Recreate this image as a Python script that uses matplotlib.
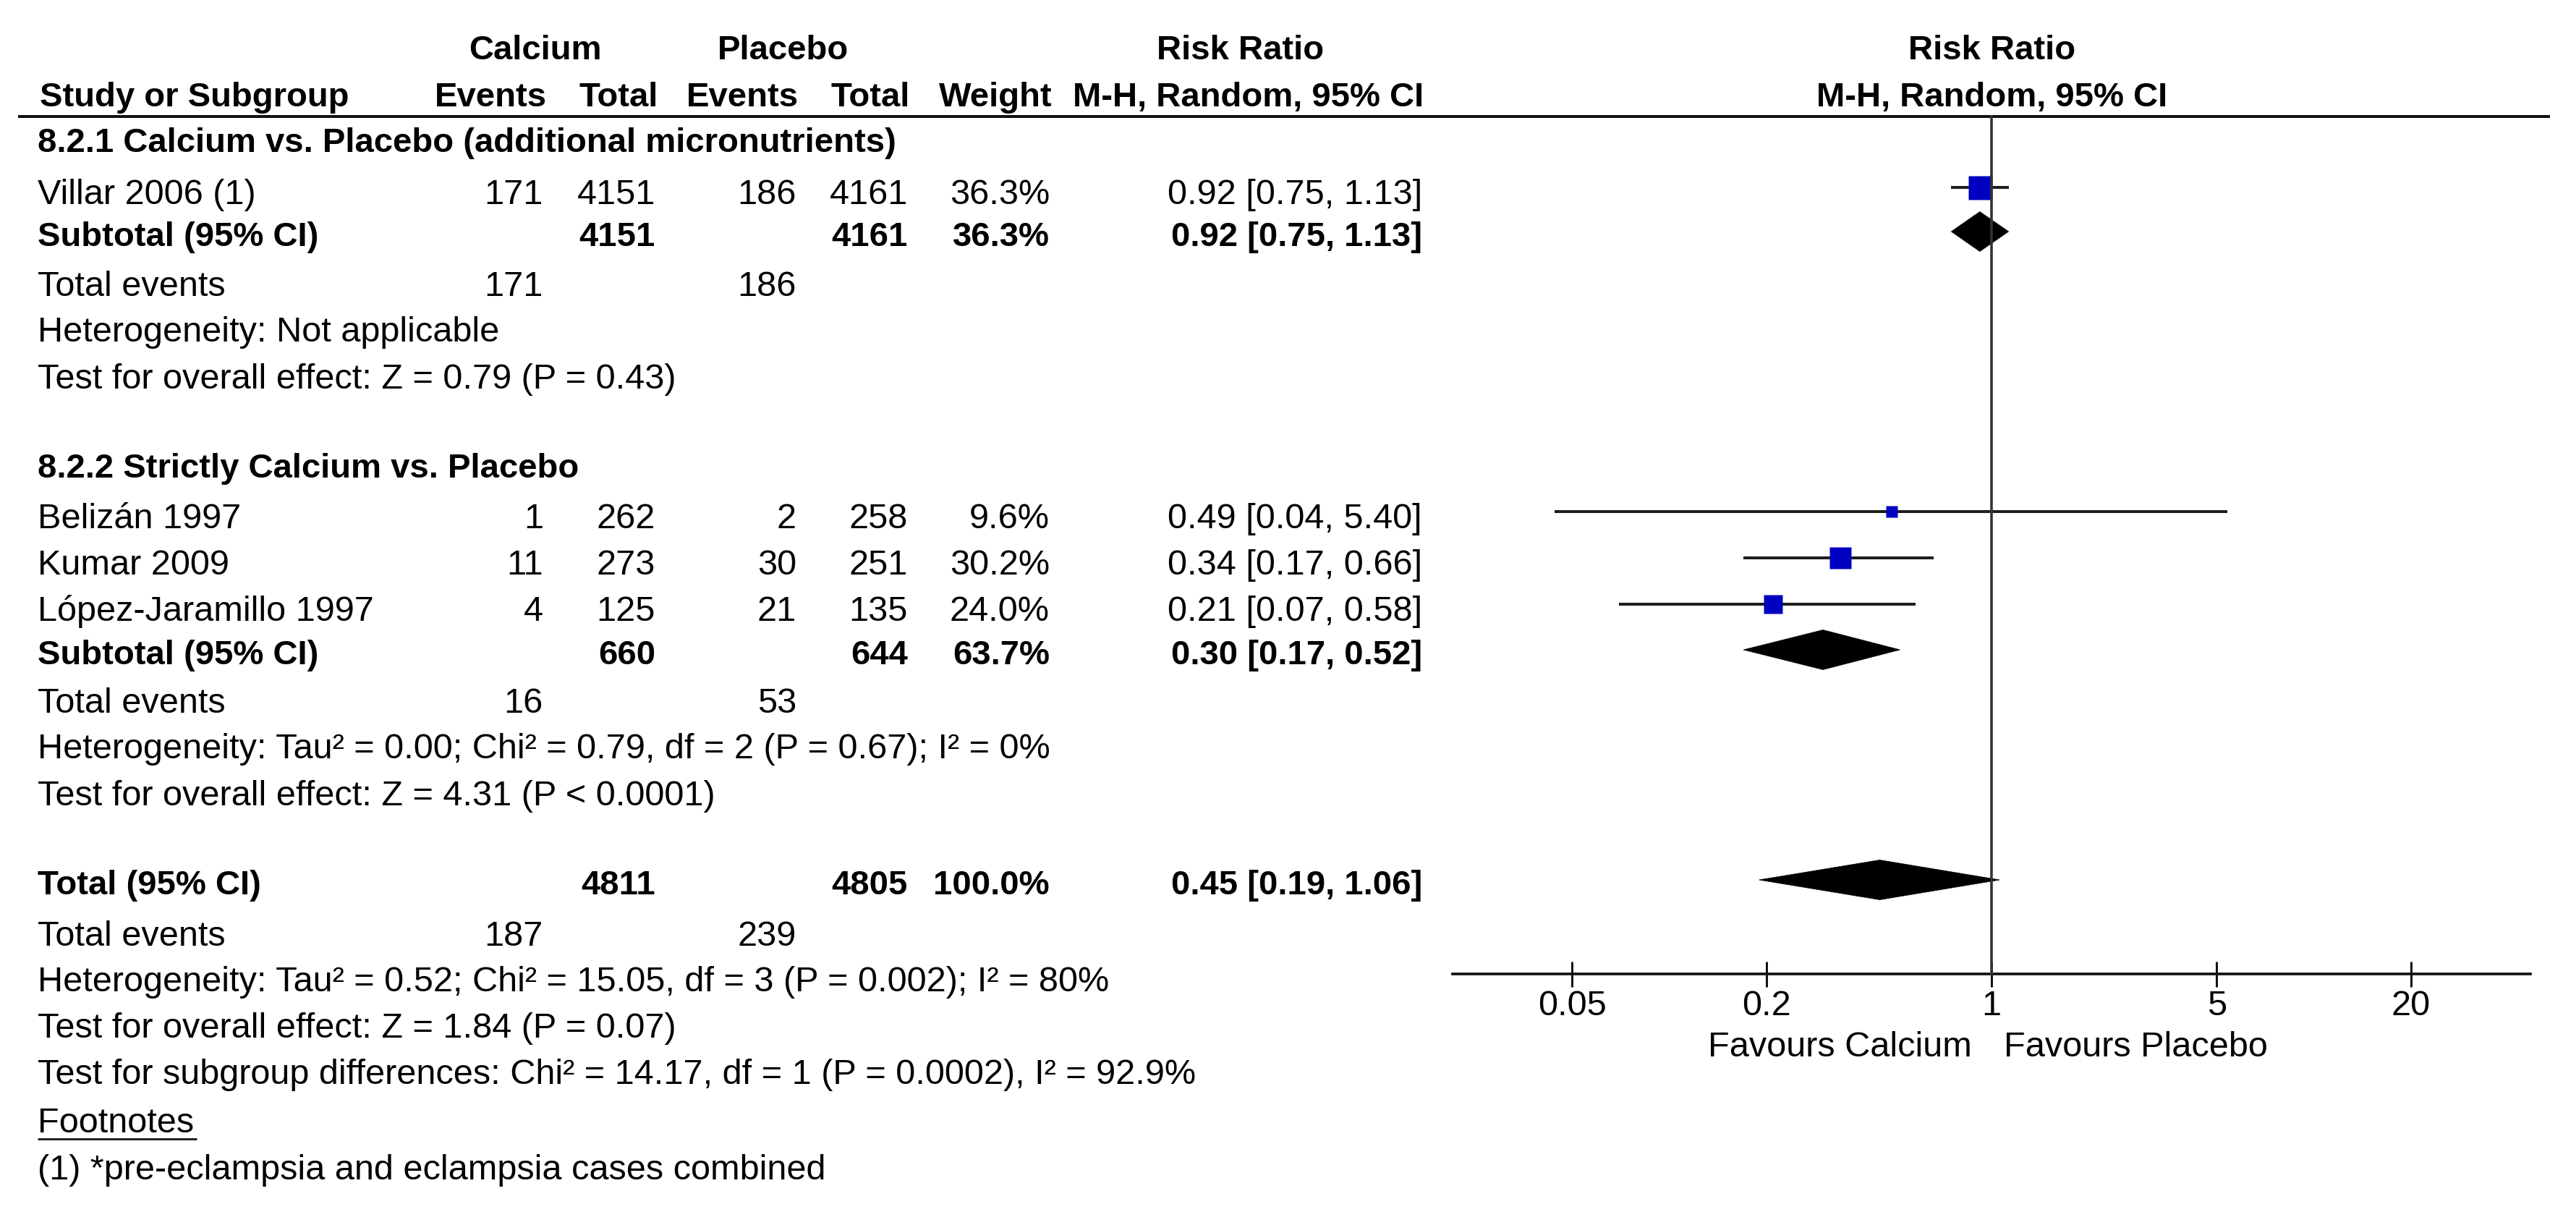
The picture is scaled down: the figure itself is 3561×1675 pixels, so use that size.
import matplotlib
matplotlib.use('Agg')
import matplotlib.pyplot as plt
from matplotlib.patches import Polygon
from matplotlib.ticker import NullLocator
from matplotlib.transforms import offset_copy
import numpy as np

plt.rcParams['font.family'] = ['Liberation Sans', 'DejaVu Sans']

# ---------------- data ----------------
studies = ['Villar 2006 (1)', 'Belizán 1997', 'Kumar 2009', 'López-Jaramillo 1997']
cal_events = [171, 1, 11, 4]
cal_total = [4151, 262, 273, 125]
pla_events = [186, 2, 30, 21]
pla_total = [4161, 258, 251, 135]
weights = [36.3, 9.6, 30.2, 24.0]
rr = [0.92, 0.49, 0.34, 0.21]
rr_lo = [0.75, 0.044, 0.17, 0.07]
rr_hi = [1.13, 5.40, 0.66, 0.58]

groups = ['8.2.1 Calcium vs. Placebo (additional micronutrients)',
          '8.2.2 Strictly Calcium vs. Placebo']
sub_cal_total = [4151, 660]
sub_pla_total = [4161, 644]
sub_weight = [36.3, 63.7]
sub_rr = [0.92, 0.30]
sub_lo = [0.75, 0.17]
sub_hi = [1.13, 0.52]
sub_cal_events = [171, 16]
sub_pla_events = [186, 53]
sub_het = ['Heterogeneity: Not applicable',
           'Heterogeneity: Tau² = 0.00; Chi² = 0.79, df = 2 (P = 0.67); I² = 0%']
sub_test = ['Test for overall effect: Z = 0.79 (P = 0.43)',
            'Test for overall effect: Z = 4.31 (P < 0.0001)']

tot_cal_total = 4811
tot_pla_total = 4805
tot_weight = 100.0
tot_rr = 0.45
tot_lo = 0.19
tot_hi = 1.06
tot_cal_events = 187
tot_pla_events = 239
tot_het = 'Heterogeneity: Tau² = 0.52; Chi² = 15.05, df = 3 (P = 0.002); I² = 80%'
tot_test = 'Test for overall effect: Z = 1.84 (P = 0.07)'
subgroup_test = 'Test for subgroup differences: Chi² = 14.17, df = 1 (P = 0.0002), I² = 92.9%'
footnote = '(1) *pre-eclampsia and eclampsia cases combined'

tick_vals = [0.05, 0.2, 1, 5, 20]
tick_labels = ['0.05', '0.2', '1', '5', '20']

# ---------------- layout (pixels) ----------------
W, H, DPI = 3562, 1675, 100
FS_B = 34     # bold text
FS_R = 35     # regular text
PT = 72.0 / DPI
BLUE = '#0000C0'
LINE = '#333333'
CI_COL = '#1e1e1e'

x_left = 52
x_ce, x_ct, x_pe, x_pt, x_w, x_rr = 751, 906, 1101, 1255, 1451, 1966

study_y = [282, 730, 794, 858]
study_grp = [0, 1, 1, 1]
group_y = [210, 660]
sub_y = [340, 918]
sub_te_y = [409, 985]
sub_het_y = [472, 1048]
sub_test_y = [537, 1113]
total_y = 1236
tot_te_y = 1307
tot_het_y = 1370
tot_test_y = 1434
subg_y = 1498
fn_title_y = 1565
fn_y = 1630

axis_y = 1346
top_line_y = 161

fig = plt.figure(figsize=(W / DPI, H / DPI), dpi=DPI)
ax = fig.add_axes([0, 0, 1, 1])
ax.set_xlim(0, W)
ax.set_ylim(H, 0)
ax.axis('off')


def t(x, y, s, ha='left', bold=False, **kw):
    return ax.text(x, y, s, ha=ha, va='baseline',
                   fontsize=FS_B if bold else FS_R,
                   fontweight='bold' if bold else 'normal', color='black', **kw)


# headers
t(740, 82, 'Calcium', ha='center', bold=True)
t(1083, 82, 'Placebo', ha='center', bold=True)
t(1715, 82, 'Risk Ratio', ha='center', bold=True)
t(2754, 82, 'Risk Ratio', ha='center', bold=True)
t(55, 147, 'Study or Subgroup', bold=True)
t(x_ce + 5, 147, 'Events', ha='right', bold=True)
t(x_ct + 4, 147, 'Total', ha='right', bold=True)
t(x_pe + 3, 147, 'Events', ha='right', bold=True)
t(x_pt + 3, 147, 'Total', ha='right', bold=True)
t(x_w + 4, 147, 'Weight', ha='right', bold=True)
t(x_rr + 2, 147, 'M-H, Random, 95% CI', ha='right', bold=True)
t(2754, 147, 'M-H, Random, 95% CI', ha='center', bold=True)
ax.plot([25, 3525], [top_line_y, top_line_y], color='#111111', lw=4 * PT,
        solid_capstyle='butt')


def fmt_ci(r, lo, hi):
    return f'{r:.2f} [{lo:.2f}, {hi:.2f}]'


# subgroups
for g in range(len(groups)):
    t(x_left, group_y[g], groups[g], bold=True)
    for i in range(len(studies)):
        if study_grp[i] != g:
            continue
        y = study_y[i]
        t(x_left, y, studies[i])
        t(x_ce, y, str(cal_events[i]), ha='right')
        t(x_ct, y, str(cal_total[i]), ha='right')
        t(x_pe, y, str(pla_events[i]), ha='right')
        t(x_pt, y, str(pla_total[i]), ha='right')
        t(x_w, y, f'{weights[i]:.1f}%', ha='right')
        t(x_rr, y, fmt_ci(rr[i], rr_lo[i], rr_hi[i]), ha='right')
    y = sub_y[g]
    t(x_left, y, 'Subtotal (95% CI)', bold=True)
    t(x_ct, y, str(sub_cal_total[g]), ha='right', bold=True)
    t(x_pt, y, str(sub_pla_total[g]), ha='right', bold=True)
    t(x_w, y, f'{sub_weight[g]:.1f}%', ha='right', bold=True)
    t(x_rr, y, fmt_ci(sub_rr[g], sub_lo[g], sub_hi[g]), ha='right', bold=True)
    t(x_left, sub_te_y[g], 'Total events')
    t(x_ce, sub_te_y[g], str(sub_cal_events[g]), ha='right')
    t(x_pe, sub_te_y[g], str(sub_pla_events[g]), ha='right')
    t(x_left, sub_het_y[g], sub_het[g])
    t(x_left, sub_test_y[g], sub_test[g])

# overall
t(x_left, total_y, 'Total (95% CI)', bold=True)
t(x_ct, total_y, str(tot_cal_total), ha='right', bold=True)
t(x_pt, total_y, str(tot_pla_total), ha='right', bold=True)
t(x_w, total_y, f'{tot_weight:.1f}%', ha='right', bold=True)
t(x_rr, total_y, fmt_ci(tot_rr, tot_lo, tot_hi), ha='right', bold=True)
t(x_left, tot_te_y, 'Total events')
t(x_ce, tot_te_y, str(tot_cal_events), ha='right')
t(x_pe, tot_te_y, str(tot_pla_events), ha='right')
t(x_left, tot_het_y, tot_het)
t(x_left, tot_test_y, tot_test)
t(x_left, subg_y, subgroup_test)
fn_txt = t(x_left, fn_title_y, 'Footnotes')
t(x_left, fn_y, footnote)

# ---------------- forest panel ----------------
x0, x1 = 2008, 3498
axf = fig.add_axes([x0 / W, 0, (x1 - x0) / W, 1])
axf.set_facecolor('none')
axf.set_xscale('log')
axf.set_xlim(10 ** -1.672, 10 ** 1.672)
axf.set_ylim(H, 0)
for s in ['left', 'right', 'top']:
    axf.spines[s].set_visible(False)
axf.spines['bottom'].set_position(('data', axis_y))
axf.spines['bottom'].set_linewidth(3.7 * PT)
axf.spines['bottom'].set_color('#111111')
axf.set_yticks([])
axf.set_xticks(tick_vals)
axf.set_xticklabels(tick_labels)
axf.xaxis.set_minor_locator(NullLocator())
axf.tick_params(axis='x', direction='inout', length=35 * PT, width=3 * PT,
                pad=3.5, labelsize=FS_R, colors='#111111')
for lab in axf.get_xticklabels():
    lab.set_color('black')

# reference line
axf.plot([1, 1], [top_line_y, axis_y], color=LINE, lw=3.6 * PT, zorder=5)

# studies
max_w = max(weights)
for i in range(len(studies)):
    y = study_y[i] - 23
    axf.plot([rr_lo[i], rr_hi[i]], [y, y], color=CI_COL, lw=4 * PT, zorder=2,
             solid_capstyle='butt')
    side = 33 * np.sqrt(weights[i] / max_w)
    axf.plot([rr[i]], [y], marker='s', ms=side * PT, color=BLUE, mec='none',
             ls='none', zorder=3)


def diamond(r, lo, hi, yc, half=27.5):
    axf.add_patch(Polygon([(lo, yc), (r, yc - half), (hi, yc), (r, yc + half)],
                          closed=True, facecolor='black', edgecolor='black',
                          lw=0.5, zorder=3))


for g in range(len(groups)):
    diamond(sub_rr[g], sub_lo[g], sub_hi[g], sub_y[g] - 20)
diamond(tot_rr, tot_lo, tot_hi, total_y - 20)

# favours labels
tr_l = offset_copy(axf.transData, fig=fig, x=-27, y=0, units='dots')
tr_r = offset_copy(axf.transData, fig=fig, x=17, y=0, units='dots')
axf.text(1, 1460, 'Favours Calcium', ha='right', va='baseline', fontsize=FS_R,
         color='black', transform=tr_l)
axf.text(1, 1460, 'Favours Placebo', ha='left', va='baseline', fontsize=FS_R,
         color='black', transform=tr_r)

# underline footnotes
fig.canvas.draw()
bb = fn_txt.get_window_extent()
ax.plot([bb.x0, bb.x1 + 4], [fn_title_y + 9, fn_title_y + 9], color='#222222',
        lw=3 * PT, solid_capstyle='butt')

fig.savefig('out.png', dpi=DPI, facecolor='white')
